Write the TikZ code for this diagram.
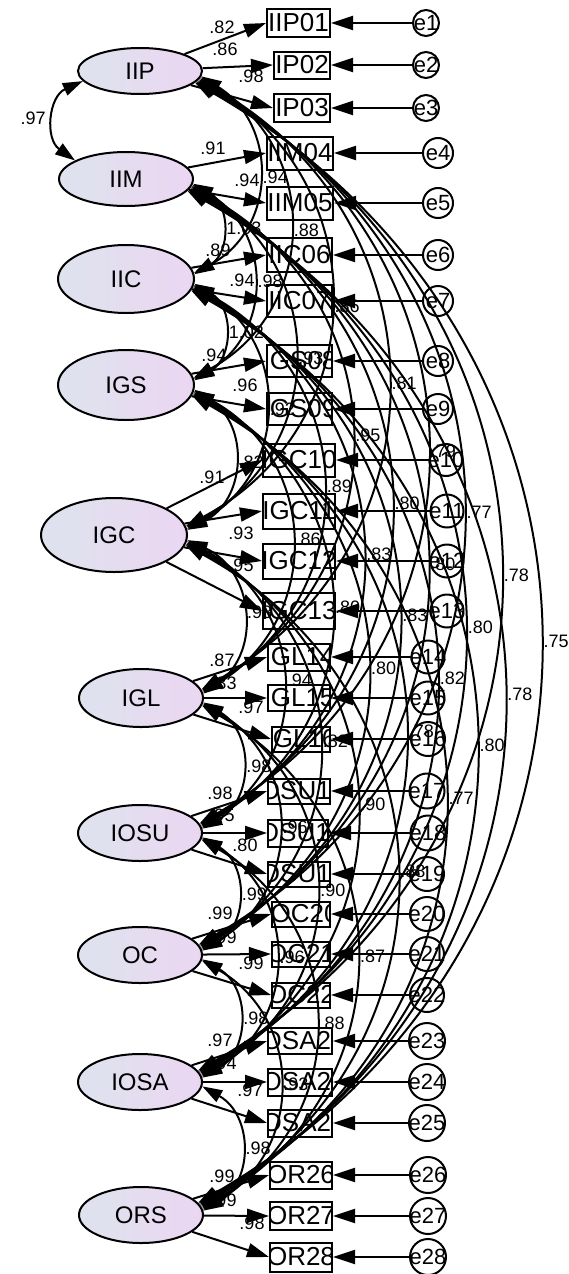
\documentclass[tikz,border=0pt]{standalone}
\usepackage{fontspec}
\setmainfont{Liberation Sans}
\usetikzlibrary{arrows.meta,shapes.geometric,calc}
\definecolor{latL}{RGB}{222,227,238}
\definecolor{latR}{RGB}{235,214,242}

% observed variable: name, label, centre x, centre y, width, height
\newcommand\obsnode[6]{%
  \node[obsbox, minimum width=#5pt, minimum height=#6pt,
    path picture={\node[obstext] at (path picture bounding box.center) {#2};}]
    (#1) at (#3,-#4) {};}
% error term: index, centre x, centre y, diameter
\newcommand\errnode[4]{%
  \node[errc, minimum size=#4pt] (e#1) at (#2,-#3) {};
  \node[errtext] at (e#1) {e#1};}
% latent factor: name, centre x, centre y, width, height
\newcommand\latnode[5]{%
  \node[latent, minimum width=#4pt, minimum height=#5pt] (#1) at (#2,-#3) {#1};}

\begin{document}
\begin{tikzpicture}[x=1pt,y=1pt,
  line width=2pt,
  latent/.style={ellipse, draw, line width=2pt, left color=latL, right color=latR,
    inner sep=0pt, font=\fontsize{24}{24}\selectfont},
  obsbox/.style={rectangle, draw, line width=2pt, fill=white, inner sep=0pt},
  obstext/.style={inner sep=0pt, draw=none, fill=none, minimum size=0pt,
    font=\fontsize{26}{26}\selectfont},
  errc/.style={circle, draw, line width=2pt, fill=white, inner sep=0pt},
  errtext/.style={inner sep=0pt, font=\fontsize{22}{22}\selectfont},
  est/.style={inner sep=0pt, font=\fontsize{18}{18}\selectfont},
  load/.style={-{Triangle[length=22pt,width=14pt]}},
  cov/.style={{Triangle[length=20pt,width=13pt]}-{Triangle[length=20pt,width=13pt]}},
]
\useasboundingbox (0,0) rectangle (568,-1274);

% indicators
\obsnode{IIP01}{IIP01}{298.5}{23}{63}{28}
\obsnode{IP02}{IP02}{302}{65}{56}{27}
\obsnode{IP03}{IP03}{302}{108}{56}{28}
\obsnode{IIM04}{IIM04}{300}{153}{66}{33}
\obsnode{IIM05}{IIM05}{300}{203}{66}{33}
\obsnode{IIC06}{IIC06}{299.5}{255}{65}{34}
\obsnode{IIC07}{IIC07}{299.5}{301}{65}{32}
\obsnode{IGS08}{IGS08}{299.5}{361}{65}{32}
\obsnode{IGS09}{IGS09}{299.5}{409}{65}{32}
\obsnode{IGC10}{IGC10}{299}{460}{72}{33}
\obsnode{IGC11}{IGC11}{299}{511}{72}{35}
\obsnode{IGC12}{IGC12}{299}{561}{72}{35}
\obsnode{IGC13}{IGC13}{299}{611}{72}{36}
\obsnode{IGL14}{IGL14}{299}{657}{62}{27}
\obsnode{IGL15}{IGL15}{299}{698}{62}{26}
\obsnode{IGL16}{IGL16}{301}{739}{58}{25}
\obsnode{IOSU17}{IOSU17}{299}{791}{62}{25}
\obsnode{IOSU18}{IOSU18}{298}{833}{60}{27}
\obsnode{IOSU19}{IOSU19}{299}{874}{62}{25}
\obsnode{IOC20}{IOC20}{301}{914}{58}{25}
\obsnode{OC21}{OC21}{301}{954}{58}{25}
\obsnode{OC22}{OC22}{301}{995}{58}{25}
\obsnode{IOSA23}{IOSA23}{300}{1041}{64}{26}
\obsnode{IOSA24}{IOSA24}{300}{1082}{64}{27}
\obsnode{IOSA25}{IOSA25}{300}{1123}{64}{27}
\obsnode{OR26}{OR26}{301}{1175}{62}{27}
\obsnode{OR27}{OR27}{301}{1216}{62}{28}
\obsnode{OR28}{OR28}{301}{1257}{62}{29}

% error terms
\errnode{1}{426}{23}{26}
\errnode{2}{426}{65}{26}
\errnode{3}{426}{108}{26}
\errnode{4}{438}{153}{30}
\errnode{5}{438}{203}{30}
\errnode{6}{438}{255}{30}
\errnode{7}{438}{301}{30}
\errnode{8}{438}{361}{30}
\errnode{9}{438}{409}{30}
\errnode{10}{446}{460}{32}
\errnode{11}{447}{511}{33}
\errnode{12}{447}{561}{33}
\errnode{13}{447}{611}{33}
\errnode{14}{428}{657}{33}
\errnode{15}{428}{698}{33}
\errnode{16}{428}{739}{34}
\errnode{17}{427}{791}{35}
\errnode{18}{428}{833}{35}
\errnode{19}{427}{874}{34}
\errnode{20}{427}{914}{34}
\errnode{21}{427}{954}{34}
\errnode{22}{427}{995}{34}
\errnode{23}{427}{1041}{36}
\errnode{24}{427}{1082}{36}
\errnode{25}{427}{1123}{36}
\errnode{26}{428}{1175}{36}
\errnode{27}{428}{1216}{36}
\errnode{28}{428}{1257}{36}

% latent factors
\latnode{IIP}{140}{71}{124}{46}
\latnode{IIM}{126}{179}{134}{54}
\latnode{IIC}{126}{279}{136}{68}
\latnode{IGS}{126}{385}{136}{70}
\latnode{IGC}{114}{535}{146}{74}
\latnode{IGL}{141}{698}{124}{58}
\latnode{IOSU}{140}{833}{124}{56}
\latnode{OC}{140}{955}{124}{56}
\latnode{IOSA}{140}{1082}{124}{56}
\latnode{ORS}{141}{1215}{124}{56}

% factor loadings
\foreach \l/\o in {IIP/IIP01, IIP/IP02, IIP/IP03, IIM/IIM04, IIM/IIM05,
  IIC/IIC06, IIC/IIC07, IGS/IGS08, IGS/IGS09, IGC/IGC10, IGC/IGC11,
  IGC/IGC12, IGC/IGC13, IGL/IGL14, IGL/IGL15, IGL/IGL16, IOSU/IOSU17,
  IOSU/IOSU18, IOSU/IOSU19, OC/IOC20, OC/OC21, OC/OC22, IOSA/IOSA23,
  IOSA/IOSA24, IOSA/IOSA25, ORS/OR26, ORS/OR27, ORS/OR28}
  \draw[load] (\l) -- (\o.west);

% error paths
\foreach \i/\o in {1/IIP01, 2/IP02, 3/IP03, 4/IIM04, 5/IIM05, 6/IIC06,
  7/IIC07, 8/IGS08, 9/IGS09, 10/IGC10, 11/IGC11, 12/IGC12, 13/IGC13,
  14/IGL14, 15/IGL15, 16/IGL16, 17/IOSU17, 18/IOSU18, 19/IOSU19,
  20/IOC20, 21/OC21, 22/OC22, 23/IOSA23, 24/IOSA24, 25/IOSA25,
  26/OR26, 27/OR27, 28/OR28}
  \draw[load] (e\i) -- (\o);

% factor correlations: near-circular arcs, tangents 60 degrees off the chord
\coordinate (pA) at (IIP.190);
\coordinate (pB) at (IIM.160);
\draw[cov] (pA) .. controls ($(pA)!0.47!-60:(pB)$) and ($(pB)!0.47!60:(pA)$) .. (pB)
  node[est, pos=0.5, anchor=east, xshift=-8pt] {.97};
\foreach \a/\b/\v/\d in {
  IIP/IIC/.94/2, IIP/IGS/.88/3, IIP/IGC/.86/4, IIP/IGL/.81/5,
  IIP/IOSU/.79/6, IIP/OC/.77/7, IIP/IOSA/.78/8, IIP/ORS/.75/9,
  IIM/IIC/1.03/1, IIM/IGS/.98/2, IIM/IGC/.93/3, IIM/IGL/.95/4,
  IIM/IOSU/.80/5, IIM/OC/.80/6, IIM/IOSA/.80/7, IIM/ORS/.78/8,
  IIC/IGS/1.02/1, IIC/IGC/.92/2, IIC/IGL/.89/3, IIC/IOSU/.83/4,
  IIC/OC/.83/5, IIC/IOSA/.82/6, IIC/ORS/.80/7,
  IGS/IGC/.82/1, IGS/IGL/.86/2, IGS/IOSU/.80/3, IGS/OC/.80/4,
  IGS/IOSA/.78/5, IGS/ORS/.77/6,
  IGC/IGL/.93/1, IGC/IOSU/.94/2, IGC/OC/.82/3, IGC/IOSA/.90/4,
  IGC/ORS/.88/5,
  IGL/IOSU/.98/1, IGL/OC/.96/2, IGL/IOSA/.90/3, IGL/ORS/.87/4,
  IOSU/OC/.99/1, IOSU/IOSA/.96/2, IOSU/ORS/.88/3,
  OC/IOSA/.98/1, OC/ORS/.93/2,
  IOSA/ORS/.98/1}{
  \pgfmathtruncatemacro\ang{3+\d}
  \coordinate (cA) at (\a.-\ang);
  \coordinate (cB) at (\b.\ang);
  \draw[cov] (cA) .. controls ($(cA)!0.47!60:(cB)$) and ($(cB)!0.47!-60:(cA)$) .. (cB)
    node[est, pos=0.5, anchor=west, xshift=4pt] {\v};
}

% loading estimates
\node[est] at (222,-27) {.82};
\node[est] at (225,-49) {.86};
\node[est] at (251,-76) {.98};
\node[est] at (213,-148) {.91};
\node[est] at (247,-180) {.94};
\node[est] at (218,-250) {.89};
\node[est] at (242,-280) {.94};
\node[est] at (214,-355) {.94};
\node[est] at (245,-385) {.96};
\node[est] at (212,-477) {.91};
\node[est] at (241,-533) {.93};
\node[est] at (241,-565) {.95};
\node[est] at (222,-660) {.87};
\node[est] at (224,-683) {.83};
\node[est] at (251,-707) {.97};
\node[est] at (220,-793) {.98};
\node[est] at (222,-815) {.95};
\node[est] at (245,-845) {.80};
\node[est] at (220,-913) {.99};
\node[est] at (224,-937) {.99};
\node[est] at (251,-963) {.99};
\node[est] at (220,-1040) {.97};
\node[est] at (224,-1063) {.94};
\node[est] at (250,-1090) {.97};
\node[est] at (222,-1176) {.99};
\node[est] at (224,-1200) {.99};
\node[est] at (252,-1223) {.98};
\end{tikzpicture}
\end{document}
